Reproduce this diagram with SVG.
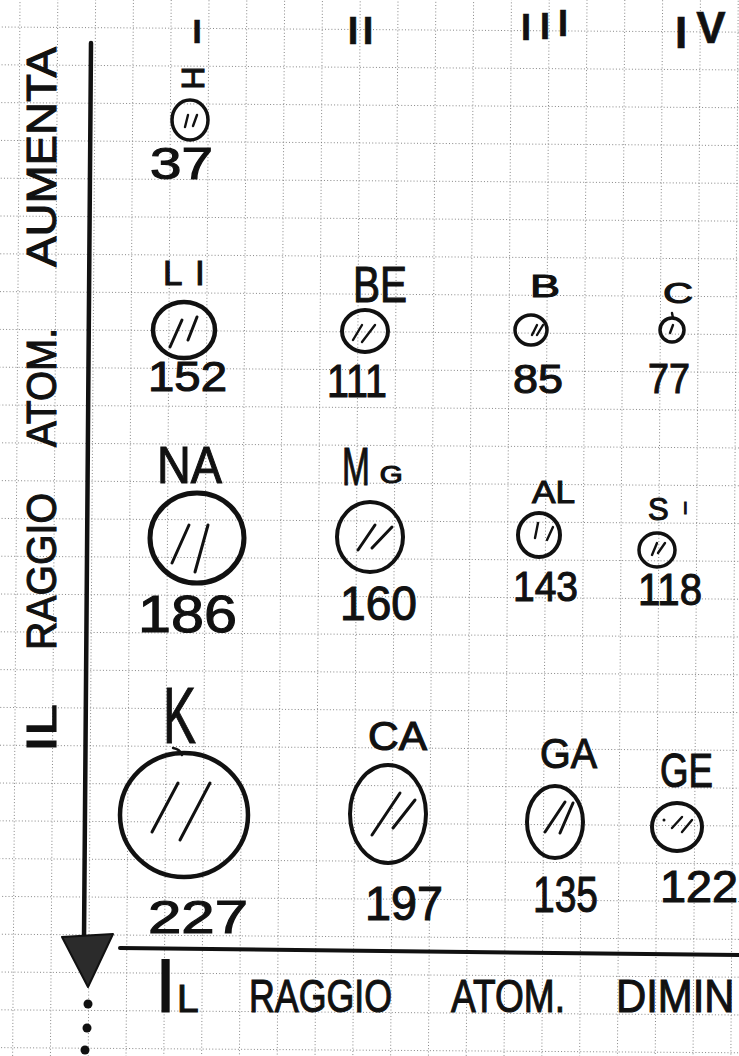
<svg xmlns="http://www.w3.org/2000/svg" width="739" height="1056" viewBox="0 0 739 1056">
<style>
.bg{fill:#fff}
.grid{fill:none;stroke:#7a7a7a;stroke-width:0.9;stroke-dasharray:1 2.2}
.t{font-family:"Liberation Sans",Arial,sans-serif;fill:#111;stroke:#111;stroke-width:1.1}
.hd{font-weight:bold;stroke-width:0.6}
.c{fill:none;stroke:#111}
.h{fill:none;stroke:#111;stroke-linecap:round;stroke-width:3}
.hs{fill:none;stroke:#111;stroke-linecap:round;stroke-width:2.4}
.ax{fill:none;stroke:#111;stroke-linecap:round}
</style>
<rect class="bg" x="0" y="0" width="739" height="1056"/>
<g id="grid" transform="rotate(0.4)">
<path class="grid" d="M-17.8,-30V1090M20,-30V1090M57.8,-30V1090M95.6,-30V1090M133.4,-30V1090M171.2,-30V1090M209,-30V1090M246.8,-30V1090M284.6,-30V1090M322.4,-30V1090M360.2,-30V1090M398,-30V1090M435.8,-30V1090M473.6,-30V1090M511.4,-30V1090M549.2,-30V1090M587,-30V1090M624.8,-30V1090M662.6,-30V1090M700.4,-30V1090M738.2,-30V1090M776,-30V1090"/>
<path class="grid" d="M-30,-10.8H780M-30,27H780M-30,64.8H780M-30,102.6H780M-30,140.4H780M-30,178.2H780M-30,216H780M-30,253.8H780M-30,291.6H780M-30,329.4H780M-30,367.2H780M-30,405H780M-30,442.8H780M-30,480.6H780M-30,518.4H780M-30,556.2H780M-30,594H780M-30,631.8H780M-30,669.6H780M-30,707.4H780M-30,745.2H780M-30,783H780M-30,820.8H780M-30,858.6H780M-30,896.4H780M-30,934.2H780M-30,972H780M-30,1009.8H780M-30,1047.6H780"/>
</g>

<g id="connectors">
<path class="ax" d="M91,43 L84,940" stroke-width="4.5"/>
<polygon points="62,937 113,934 88,987" fill="#2b2b2b" stroke="#111" stroke-width="2" stroke-linejoin="round"/>
<circle cx="88" cy="1004" r="4.5" fill="#111"/>
<circle cx="87" cy="1028" r="4.5" fill="#111"/>
<circle cx="85" cy="1050" r="4.5" fill="#111"/>
<path class="ax" d="M120,948 L739,955" stroke-width="4"/>
</g>

<g id="axis-label-vertical">
<text class="t" font-size="42" transform="translate(56,752) rotate(-90)" textLength="48" lengthAdjust="spacingAndGlyphs">IL</text>
<text class="t" font-size="42" transform="translate(56,650) rotate(-90)" textLength="157" lengthAdjust="spacingAndGlyphs">RAGGIO</text>
<text class="t" font-size="42" transform="translate(56,447) rotate(-90)" textLength="119" lengthAdjust="spacingAndGlyphs">ATOM.</text>
<text class="t" font-size="42" transform="translate(56,267) rotate(-90)" textLength="220" lengthAdjust="spacingAndGlyphs">AUMENTA</text>
</g>

<g id="axis-label-horizontal">
<text class="t" y="1012"><tspan x="155" font-size="76">I</tspan><tspan x="177" font-size="39">L</tspan></text>
<text class="t" x="249" y="1012" font-size="46" textLength="143" lengthAdjust="spacingAndGlyphs">RAGGIO</text>
<text class="t" x="451" y="1012" font-size="46" textLength="114" lengthAdjust="spacingAndGlyphs">ATOM.</text>
<text class="t" font-size="46" transform="translate(616,1012) scale(0.91,1)">DIMIN</text>
</g>

<g id="header-I"><text class="t hd" x="197" y="43" font-size="33" text-anchor="middle">I</text></g>
<g id="header-II"><text class="t hd" x="353 368" y="44" font-size="38" text-anchor="middle">II</text></g>
<g id="header-III"><text class="t hd" x="526 545 563" y="40 39 36" font-size="36" text-anchor="middle">III</text></g>
<g id="header-IV"><text class="t hd" x="681 711" y="48 43" font-size="44" text-anchor="middle">IV</text></g>

<g id="node-H">
<text class="t" font-size="32" text-anchor="middle" transform="translate(193,78) rotate(90)" y="11.5">H</text>
<ellipse class="c" cx="190" cy="120" rx="18" ry="20" stroke-width="3.5"/>
<path class="hs" d="M185,127 L188,115 M193,126 L197,115"/>
<text class="t" x="150" y="179" font-size="44" textLength="63" lengthAdjust="spacingAndGlyphs">37</text>
</g>

<g id="node-LI">
<text class="t" y="285" font-size="35"><tspan x="163">L</tspan><tspan x="195">I</tspan></text>
<ellipse class="c" cx="184" cy="330" rx="31" ry="28" stroke-width="4.5"/>
<path class="h" d="M170,347 L182,320 M188,340 L197,317"/>
<text class="t" x="148" y="391" font-size="42" textLength="79" lengthAdjust="spacingAndGlyphs">152</text>
</g>

<g id="node-NA">
<text class="t" x="157" y="483" font-size="52" textLength="65" lengthAdjust="spacingAndGlyphs">NA</text>
<ellipse class="c" cx="197" cy="538" rx="47" ry="45" stroke-width="5"/>
<path class="h" d="M172,563 L189,525 M195,572 L208,525"/>
<text class="t" x="138" y="632" font-size="52" textLength="99" lengthAdjust="spacingAndGlyphs">186</text>
</g>

<g id="node-K">
<text class="t" x="163" y="743" font-size="80" textLength="33" lengthAdjust="spacingAndGlyphs">K</text>
<ellipse class="c" cx="184" cy="815" rx="64" ry="62" stroke-width="4.5"/>
<path class="hs" d="M173,748 Q180,749 182,755"/>
<path class="h" d="M152,832 L178,783 M180,840 L210,783"/>
<text class="t" x="148" y="933" font-size="47" textLength="100" lengthAdjust="spacingAndGlyphs">227</text>
</g>

<g id="node-BE">
<text class="t" x="353" y="302" font-size="50" textLength="54" lengthAdjust="spacingAndGlyphs">BE</text>
<ellipse class="c" cx="365" cy="331" rx="23" ry="21" stroke-width="4"/>
<path class="hs" d="M353,340 L362,325 M362,342 L375,325"/>
<text class="t" x="327" y="397" font-size="47" textLength="60" lengthAdjust="spacingAndGlyphs">111</text>
</g>

<g id="node-MG">
<text class="t" transform="translate(342,485) scale(0.62,1)"><tspan x="0" font-size="54">M</tspan><tspan x="61" y="-2" font-size="23" textLength="37" lengthAdjust="spacingAndGlyphs">G</tspan></text>
<ellipse class="c" cx="370" cy="537" rx="33" ry="35" stroke-width="4"/>
<path class="h" d="M358,550 L375,525 M372,548 L392,527"/>
<text class="t" x="340" y="620" font-size="48" textLength="77" lengthAdjust="spacingAndGlyphs">160</text>
</g>

<g id="node-CA">
<text class="t" x="368" y="750" font-size="40" textLength="59" lengthAdjust="spacingAndGlyphs">CA</text>
<ellipse class="c" cx="388" cy="814" rx="38" ry="49" stroke-width="4"/>
<path class="h" d="M372,835 L400,793 M393,828 L415,800"/>
<text class="t" x="365" y="920" font-size="48" textLength="78" lengthAdjust="spacingAndGlyphs">197</text>
</g>

<g id="node-B">
<text class="t" x="530" y="297" font-size="31" textLength="30" lengthAdjust="spacingAndGlyphs">B</text>
<ellipse class="c" cx="531" cy="330" rx="16" ry="15" stroke-width="3.5"/>
<path class="hs" d="M532,335 L537,325 M537,335 L543,325"/>
<text class="t" x="513" y="393" font-size="40" textLength="50" lengthAdjust="spacingAndGlyphs">85</text>
</g>

<g id="node-AL">
<text class="t" x="532" y="503" font-size="32" textLength="43" lengthAdjust="spacingAndGlyphs">AL</text>
<ellipse class="c" cx="539" cy="535" rx="21" ry="22" stroke-width="4"/>
<path class="hs" d="M535,538 L538,523 M547,540 L553,527"/>
<text class="t" x="513" y="601" font-size="43" textLength="65" lengthAdjust="spacingAndGlyphs">143</text>
</g>

<g id="node-GA">
<text class="t" x="540" y="768" font-size="42" textLength="57" lengthAdjust="spacingAndGlyphs">GA</text>
<ellipse class="c" cx="555" cy="822" rx="28" ry="36" stroke-width="4"/>
<path class="h" d="M545,832 L565,802 M560,833 L573,803"/>
<text class="t" x="533" y="912" font-size="50" textLength="65" lengthAdjust="spacingAndGlyphs">135</text>
</g>

<g id="node-C">
<text class="t" x="663" y="303" font-size="30" textLength="30" lengthAdjust="spacingAndGlyphs">C</text>
<ellipse class="c" cx="672" cy="330" rx="12" ry="12" stroke-width="3.5"/>
<path class="hs" d="M672,313 L673,318 M670,333 L673,325"/>
<text class="t" x="648" y="393" font-size="43" textLength="42" lengthAdjust="spacingAndGlyphs">77</text>
</g>

<g id="node-SI">
<text class="t" x="648" y="520" font-size="31">S<tspan x="683" y="514" font-size="17">I</tspan></text>
<ellipse class="c" cx="657" cy="550" rx="18" ry="17" stroke-width="3.5"/>
<path class="hs" d="M652,555 L657,543 M658,553 L665,543"/>
<text class="t" x="638" y="605" font-size="44" textLength="64" lengthAdjust="spacingAndGlyphs">118</text>
</g>

<g id="node-GE">
<text class="t" x="660" y="787" font-size="48" textLength="53" lengthAdjust="spacingAndGlyphs">GE</text>
<ellipse class="c" cx="677" cy="827" rx="25" ry="24" stroke-width="4"/>
<circle cx="664" cy="820" r="1.5" fill="#111"/>
<path class="hs" d="M672,828 L682,817 M682,832 L692,820"/>
<text class="t" x="660" y="902" font-size="44" textLength="78" lengthAdjust="spacingAndGlyphs">122</text>
</g>
</svg>
